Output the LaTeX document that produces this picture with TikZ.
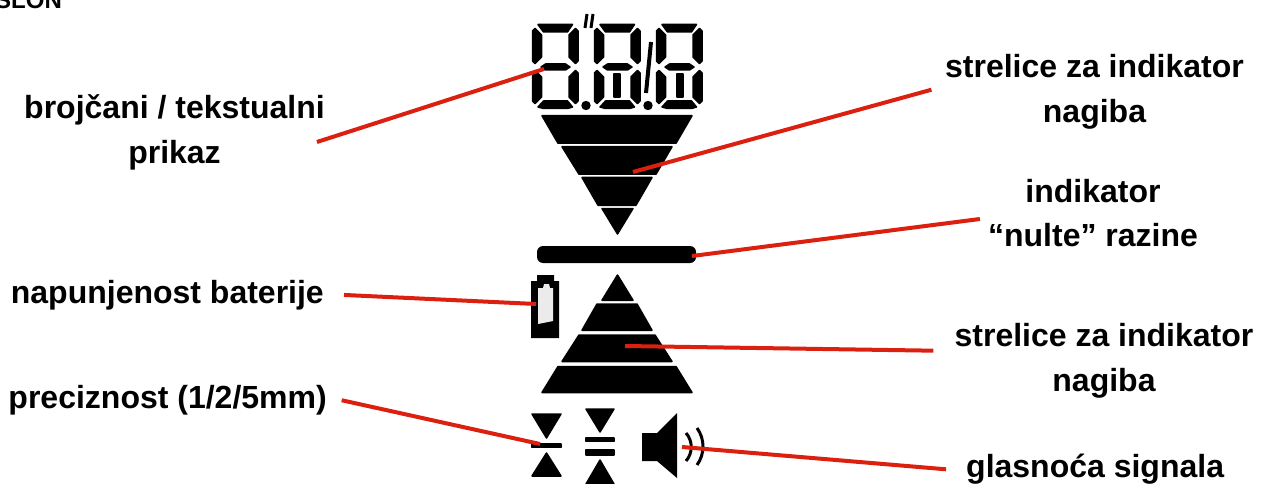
\documentclass[tikz,border=0pt]{standalone}
\usepackage{fontspec}
\setmainfont{Liberation Sans}
\definecolor{leadred}{RGB}{219,32,16}
\usetikzlibrary{positioning}
\tikzset{
  seg/.style={fill=black,draw=black,line width=1.5pt,line join=round},
  lbl/.style={font=\fontsize{32}{44.5}\selectfont\bfseries,align=center,inner sep=0pt},
  leader/.style={draw=leadred,line width=4pt},
  wave/.style={draw=black,line width=3pt},
}
% one LCD digit, y stays absolute
\newcommand{\lcddigit}[1]{
  \begin{scope}[shift={(#1,0)}]
    \fill[seg] (6.5,24.5) -- (41,24.5) -- (36,32) -- (12,32) -- cycle;
    \fill[seg] (1,31) -- (3.5,28.5) -- (10,35) -- (10,57) -- (3.5,63.5) -- (1,61) -- cycle;
    \fill[seg] (46.5,31) -- (44,28.5) -- (37.5,35) -- (37.5,57) -- (44,63.5) -- (46.5,61) -- cycle;
    \fill[seg] (9.5,67) -- (14,64) -- (34,64) -- (38.5,67) -- (34,70) -- (14,70) -- cycle;
    \fill[seg] (1,73) -- (3.5,70.5) -- (10,77) -- (10,97) -- (3.5,103.5) -- (1,101) -- cycle;
    \fill[seg] (46.5,73) -- (44,70.5) -- (37.5,77) -- (37.5,97) -- (44,103.5) -- (46.5,101) -- cycle;
    \fill[seg] (6.5,107) -- (12,101) -- (36,101) -- (41,107) -- (36,108.5) -- (12,108.5) -- cycle;
  \end{scope}
}

\begin{document}
\begin{tikzpicture}[x=1pt,y=-1pt]
    \useasboundingbox (0,0) rectangle (1267,484);
    \clip (0,0) rectangle (1267,484);
    \node[font=\fontsize{24}{24}\selectfont\bfseries,anchor=base west,inner sep=0pt] (naslov) at (-5,9) {SLON};
    % display
    \foreach \dx in {531.5,593.5,655.5} {\lcddigit{\dx}}
    \foreach \dx in {614,677} {\fill[seg] (\dx,74) rectangle (\dx+6,97);}
    \foreach \dx in {586,648} {\fill (\dx,105.5) circle (4.7);}
    \draw[line width=3pt] (587,14) -- (585,28);
    \draw[line width=3pt] (593,14) -- (591,28);
    \draw[line width=4pt] (651,42) -- (646,93);
    % tilt arrows, down
    \fill[seg] (542,115.75) -- (692,115.75) -- (676,143.25) -- (558,143.25) -- cycle;
    \fill[seg] (562,146.75) -- (672,146.75) -- (656,174.25) -- (579,174.25) -- cycle;
    \fill[seg] (582,177.5) -- (652,177.5) -- (636,205.25) -- (598,205.25) -- cycle;
    \fill[seg] (602,208.5) -- (633,208.5) -- (617.5,234) -- cycle;
    % zero bar
    \fill[black,rounded corners=6pt] (537,246) rectangle (696,263);
    % tilt arrows, up
    \fill[seg] (617.5,275) -- (633,300.25) -- (602,300.25) -- cycle;
    \fill[seg] (597,304) -- (637,304) -- (652,330.25) -- (582,330.25) -- cycle;
    \fill[seg] (579,335) -- (655,335) -- (672,361.5) -- (562,361.5) -- cycle;
    \fill[seg] (558,366.5) -- (676,366.5) -- (692,392.5) -- (542,392.5) -- cycle;
    % battery
    \fill[black] (531,281) -- (537,281) -- (537,275) -- (554,275) -- (554,281) -- (559,281) -- (559,338) -- (531,338) -- cycle;
    \fill[white!92!black] (538,288) -- (543,288) -- (544,284) -- (549,284) -- (550,288) -- (553,288) -- (553,321) -- (538,324) -- cycle;
    % precision icons
    \fill[seg] (532,414) -- (561,414) -- (546.5,438) -- cycle;
    \fill[seg] (532,444) rectangle (561,447.5);
    \fill[seg] (546.5,453) -- (561,476) -- (532,476) -- cycle;
    \fill[seg] (586,409) -- (614,409) -- (600,432) -- cycle;
    \fill[seg] (586,438) rectangle (614,441.5);
    \fill[seg] (586,450) rectangle (614,455);
    \fill[seg] (600,460) -- (614,484) -- (586,484) -- cycle;
    % speaker
    \fill[black] (642,433) -- (657,433) -- (677,413) -- (677,478) -- (657,461) -- (642,461) -- cycle;
    \draw[wave] (686,433) .. controls (693,441) and (693,453) .. (686,461);
    \draw[wave] (697,428) .. controls (705,439) and (705,454) .. (697,465);
    % labels
    \node[lbl] (broj) at (174.5,132.5) {brojčani / tekstualni\\prikaz};
    \node[lbl] (nagibgore) at (1094.5,92) {strelice za indikator\\nagiba};
    \node[lbl] (nula) at (1093,213) {indikator\\“nulte” razine};
    \node[lbl,anchor=east] (baterija) at (324,295) {napunjenost baterije};
    \node[lbl] (nagibdole) at (1104,361) {strelice za indikator\\nagiba};
    \node[lbl,anchor=east] (preciznost) at (327,400) {preciznost (1/2/5mm)};
    \node[lbl,anchor=west] (glasnoca) at (966,469) {glasnoća signala};
    % leader ends
    \coordinate (brojS) at ([xshift=-8pt,yshift=-9.5pt]broj.east);
    \coordinate (brojE) at (544,69);
    \coordinate (goreE) at (633,172);
    \coordinate (nulaE) at (692,256);
    \coordinate (batE) at (536,304);
    \coordinate (doleE) at (625,346);
    \coordinate (precE) at (540,444);
    \coordinate (zvukE) at (682,447);
    \draw[leader] (brojS) -- (brojE);
    \draw[leader,shorten <=14pt] ([yshift=6pt]nagibgore.west) -- (goreE);
    \draw[leader] ([xshift=-8pt,yshift=-6pt]nula.west) -- (nulaE);
    \draw[leader,shorten <=20pt] ([yshift=1pt]baterija.east) -- (batE);
    \draw[leader,shorten <=21pt] ([yshift=10pt]nagibdole.west) -- (doleE);
    \draw[leader,shorten <=15pt] ([yshift=3pt]preciznost.east) -- (precE);
    \draw[leader,shorten <=20pt] ([yshift=-2pt]glasnoca.west) -- (zvukE);
  \end{tikzpicture}
\end{document}
